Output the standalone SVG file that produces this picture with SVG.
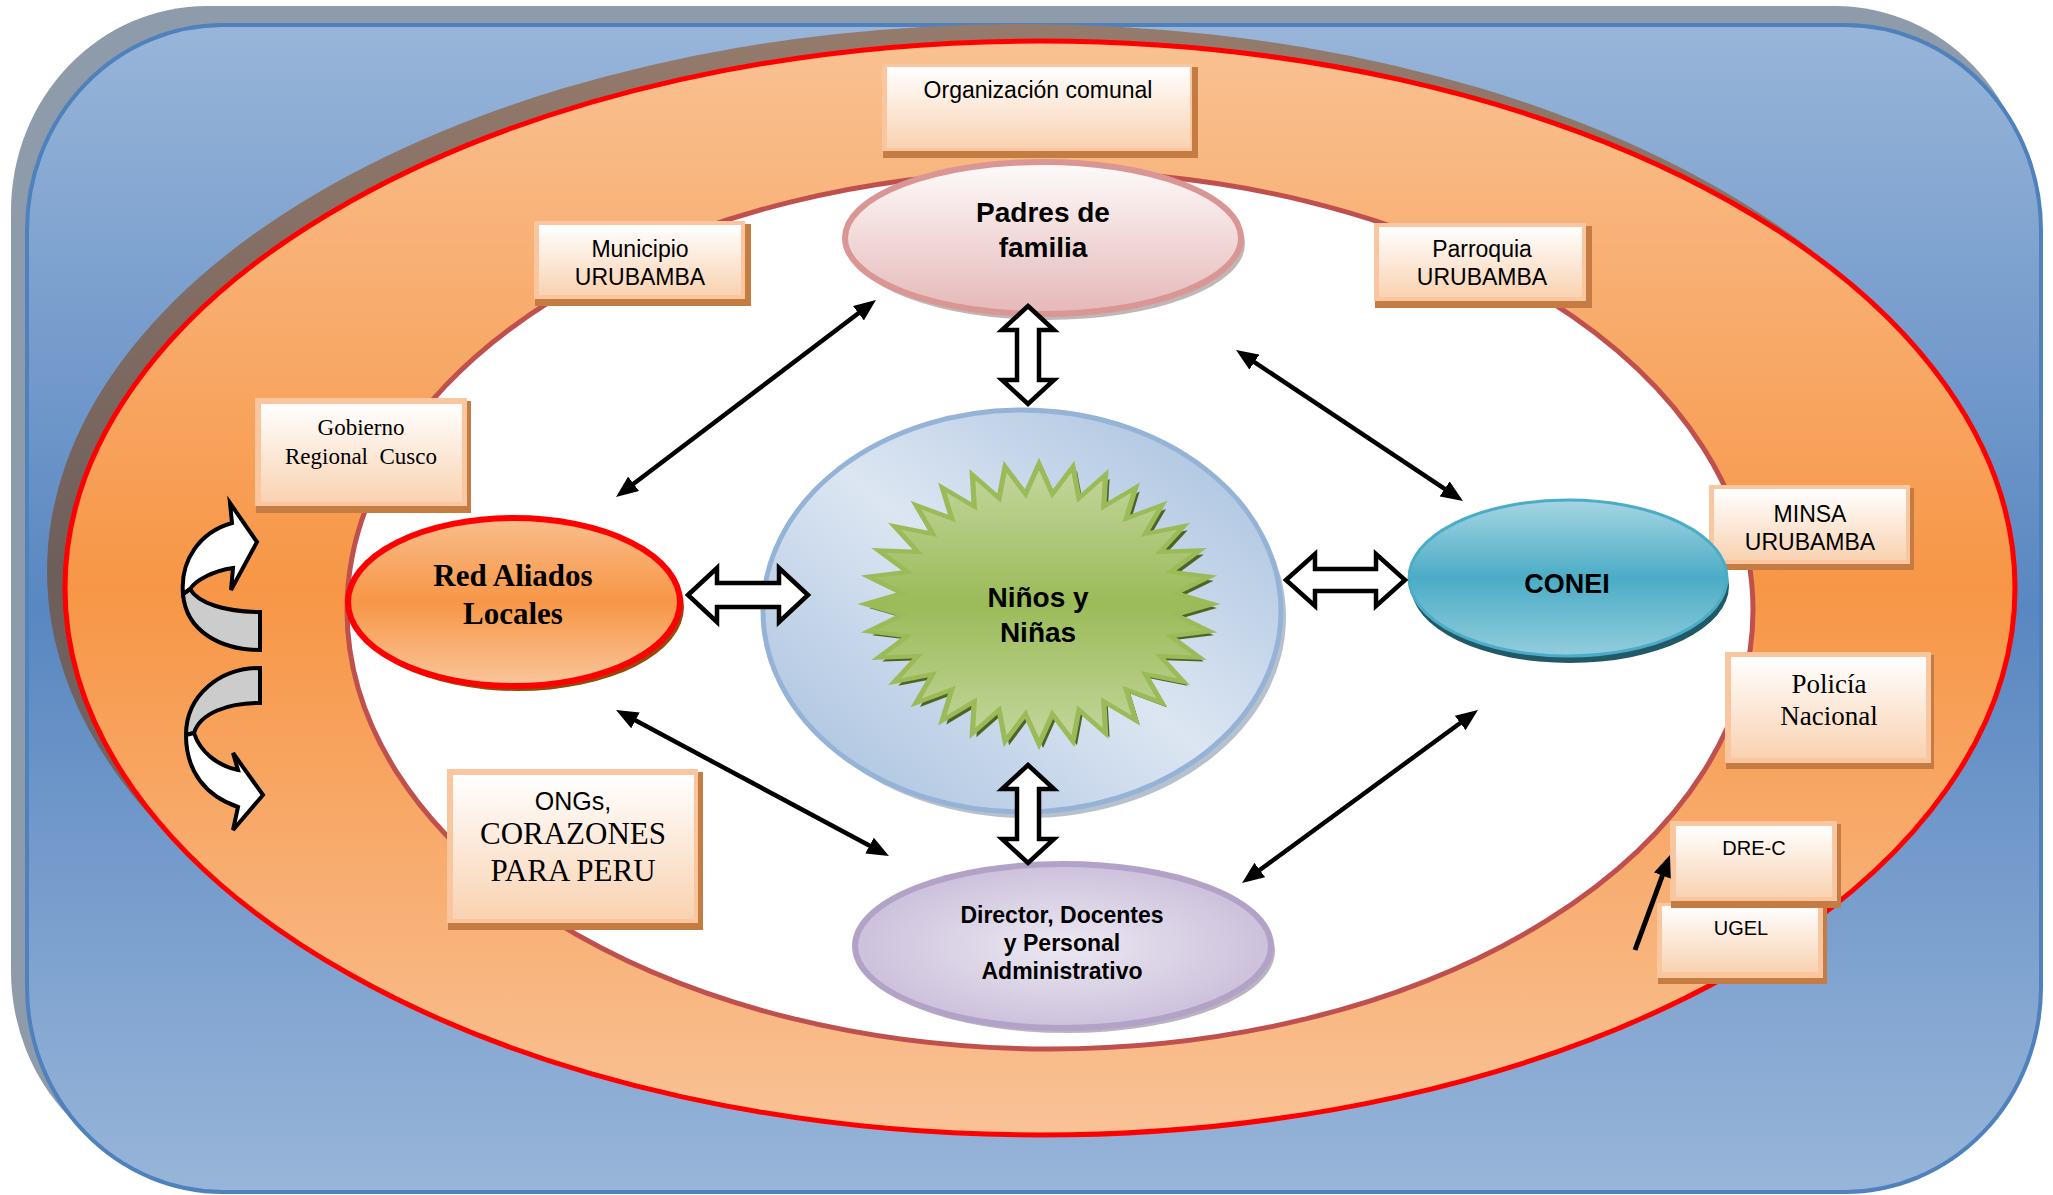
<svg xmlns="http://www.w3.org/2000/svg" width="2053" height="1195" viewBox="0 0 2053 1195">
<defs>
<style>
.sans{font-family:"Liberation Sans",Arial,sans-serif;fill:#000;text-anchor:middle}
.serif{font-family:"Liberation Serif","Times New Roman",serif;fill:#000;text-anchor:middle}
.b{font-weight:bold}
.bsh{fill:#c47c43}
.bbd{fill:#f9c6a0}
.bface{fill:url(#gBox)}
.blk{fill:#fff;stroke:#000;stroke-width:4.5;stroke-linejoin:miter}
.ln{fill:none;stroke:#000;stroke-width:4.5;marker-start:url(#ah);marker-end:url(#ah)}
.cv{stroke:#000;stroke-width:4;stroke-linejoin:miter}
</style>
<linearGradient id="gBlue" x1="0" y1="0" x2="0" y2="1">
<stop offset="0" stop-color="#98b5d9"/><stop offset="0.5" stop-color="#5987c1"/><stop offset="1" stop-color="#98b5d9"/>
</linearGradient>
<linearGradient id="gBrown" x1="0" y1="0" x2="0" y2="1">
<stop offset="0" stop-color="#957b6c"/><stop offset="0.5" stop-color="#6e5e5a"/><stop offset="1" stop-color="#7a6e72"/>
</linearGradient>
<linearGradient id="gOrange" x1="0" y1="0" x2="0" y2="1">
<stop offset="0" stop-color="#f9c192"/><stop offset="0.5" stop-color="#f79646"/><stop offset="1" stop-color="#f9c296"/>
</linearGradient>
<linearGradient id="gBox" x1="0" y1="0" x2="0" y2="1">
<stop offset="0" stop-color="#ffffff"/><stop offset="1" stop-color="#f9d2b1"/>
</linearGradient>
<linearGradient id="gCenter" x1="1" y1="0" x2="0" y2="1">
<stop offset="0" stop-color="#a3bddd"/><stop offset="0.5" stop-color="#dce6f2"/><stop offset="1" stop-color="#a3bddd"/>
</linearGradient>
<linearGradient id="gStar" x1="0" y1="0" x2="0" y2="1">
<stop offset="0" stop-color="#c4d79e"/><stop offset="0.5" stop-color="#9bbb59"/><stop offset="1" stop-color="#c4d79e"/>
</linearGradient>
<linearGradient id="gPink" x1="0" y1="0" x2="0" y2="1">
<stop offset="0" stop-color="#fefbfb"/><stop offset="1" stop-color="#e5b8b7"/>
</linearGradient>
<linearGradient id="gTeal" x1="0" y1="0" x2="0" y2="1">
<stop offset="0" stop-color="#a5d5e2"/><stop offset="0.5" stop-color="#4bacc6"/><stop offset="1" stop-color="#93cddd"/>
</linearGradient>
<radialGradient id="gLav" cx="0.5" cy="0.5" r="0.6">
<stop offset="0" stop-color="#ece8f2"/><stop offset="1" stop-color="#c6b9d7"/>
</radialGradient>
<linearGradient id="gRA" x1="0" y1="0" x2="0" y2="1">
<stop offset="0" stop-color="#f9bd8c"/><stop offset="0.5" stop-color="#f79646"/><stop offset="1" stop-color="#fac69c"/>
</linearGradient>
<marker id="ah" markerUnits="userSpaceOnUse" viewBox="0 0 22 18" markerWidth="22" markerHeight="18" refX="14" refY="9" orient="auto-start-reverse">
<path d="M0,0 L22,9 L0,18 Z" fill="#000"/>
</marker>
<polygon id="star" points="0,-100 7.74,-78.62 19.51,-98.08 22.93,-75.6 38.27,-92.39 37.24,-69.67 55.56,-83.15 50.12,-61.07 70.71,-70.71 61.07,-50.12 83.15,-55.56 69.67,-37.24 92.39,-38.27 75.6,-22.93 98.08,-19.51 78.62,-7.74 100,0 78.62,7.74 98.08,19.51 75.6,22.93 92.39,38.27 69.67,37.24 83.15,55.56 61.07,50.12 70.71,70.71 50.12,61.07 55.56,83.15 37.24,69.67 38.27,92.39 22.93,75.6 19.51,98.08 7.74,78.62 0,100 -7.74,78.62 -19.51,98.08 -22.93,75.6 -38.27,92.39 -37.24,69.67 -55.56,83.15 -50.12,61.07 -70.71,70.71 -61.07,50.12 -83.15,55.56 -69.67,37.24 -92.39,38.27 -75.6,22.93 -98.08,19.51 -78.62,7.74 -100,0 -78.62,-7.74 -98.08,-19.51 -75.6,-22.93 -92.39,-38.27 -69.67,-37.24 -83.15,-55.56 -61.07,-50.12 -70.71,-70.71 -50.12,-61.07 -55.56,-83.15 -37.24,-69.67 -38.27,-92.39 -22.93,-75.6 -19.51,-98.08 -7.74,-78.62"/>
</defs>

<g id="background">
<rect x="11" y="6" width="2020" height="1170" rx="196" ry="205" fill="#8e9bab"/>
<rect x="27" y="25" width="2014" height="1167" rx="196" ry="205" fill="url(#gBlue)" stroke="#4f81bd" stroke-width="4"/>
<ellipse cx="1022" cy="571" rx="975" ry="547" fill="url(#gBrown)"/>
<ellipse cx="1040" cy="588" rx="975" ry="547" fill="url(#gOrange)" stroke="#ff0000" stroke-width="5"/>
<ellipse cx="1050" cy="610" rx="703" ry="439" fill="#ffffff" stroke="#c0504d" stroke-width="5"/>
</g>

<g id="organizacion-comunal">
<rect x="883" y="67" width="315" height="91" class="bsh"/>
<rect x="882" y="64" width="310" height="87" class="bbd"/>
<rect x="887" y="67" width="303" height="81" class="bface"/>
<text x="1038" y="98" class="sans" font-size="23">Organización comunal</text>
</g>

<g id="municipio">
<rect x="535" y="224" width="216" height="82" class="bsh"/>
<rect x="534" y="221" width="211" height="78" class="bbd"/>
<rect x="539" y="225" width="202" height="70" class="bface"/>
<text x="640" y="257" class="sans" font-size="23">Municipio</text>
<text x="640" y="285" class="sans" font-size="23">URUBAMBA</text>
</g>

<g id="parroquia">
<rect x="1375" y="226" width="217" height="82" class="bsh"/>
<rect x="1374" y="223" width="212" height="78" class="bbd"/>
<rect x="1379" y="227" width="203" height="70" class="bface"/>
<text x="1482" y="257" class="sans" font-size="23">Parroquia</text>
<text x="1482" y="285" class="sans" font-size="23">URUBAMBA</text>
</g>

<g id="gobierno">
<rect x="256" y="401" width="215" height="112" class="bsh"/>
<rect x="255" y="398" width="212" height="108" class="bbd"/>
<rect x="261" y="404" width="201" height="98" class="bface"/>
<text x="361" y="435" class="serif" font-size="23">Gobierno</text>
<text x="361" y="464" class="serif" font-size="23">Regional&#160; Cusco</text>
</g>

<g id="ongs">
<rect x="448" y="772" width="255" height="158" class="bsh"/>
<rect x="447" y="769" width="251" height="154" class="bbd"/>
<rect x="453" y="775" width="241" height="144" class="bface"/>
<text x="573" y="810" class="sans" font-size="25">ONGs,</text>
<text x="573" y="844" class="serif" font-size="31">CORAZONES</text>
<text x="573" y="881" class="serif" font-size="31">PARA PERU</text>
</g>

<g id="minsa">
<rect x="1710" y="488" width="204" height="82" class="bsh"/>
<rect x="1709" y="485" width="201" height="79" class="bbd"/>
<rect x="1714" y="489" width="192" height="71" class="bface"/>
<text x="1810" y="522" class="sans" font-size="23">MINSA</text>
<text x="1810" y="550" class="sans" font-size="23">URUBAMBA</text>
</g>

<g id="policia">
<rect x="1726" y="655" width="208" height="114" class="bsh"/>
<rect x="1725" y="652" width="206" height="111" class="bbd"/>
<rect x="1731" y="657" width="195" height="101" class="bface"/>
<text x="1829" y="693" class="serif" font-size="27">Policía</text>
<text x="1829" y="725" class="serif" font-size="27">Nacional</text>
</g>

<g id="ugel">
<rect x="1658" y="906" width="169" height="78" class="bsh"/>
<rect x="1657" y="903" width="166" height="75" class="bbd"/>
<rect x="1662" y="906" width="156" height="66" class="bface"/>
<text x="1741" y="935" class="sans" font-size="20">UGEL</text>
</g>

<g id="dre-c">
<rect x="1671" y="824" width="170" height="84" class="bsh"/>
<rect x="1670" y="821" width="167" height="80" class="bbd"/>
<rect x="1676" y="826" width="156" height="71" class="bface"/>
<text x="1754" y="855" class="sans" font-size="20">DRE-C</text>
</g>

<g id="padres-de-familia">
<ellipse cx="1047" cy="244" rx="198" ry="76" fill="#8c7a7a" opacity="0.55"/>
<ellipse cx="1043" cy="238" rx="198" ry="76" fill="url(#gPink)" stroke="#d99694" stroke-width="6"/>
<text x="1043" y="222" class="sans b" font-size="28">Padres de</text>
<text x="1043" y="257" class="sans b" font-size="28">familia</text>
</g>

<g id="ninos-y-ninas">
<ellipse cx="1027" cy="617" rx="259" ry="201" fill="#8797ad" opacity="0.6"/>
<ellipse cx="1022" cy="611" rx="259" ry="201" fill="url(#gCenter)" stroke="#95b3d7" stroke-width="5"/>
<use href="#star" transform="translate(1043,608) scale(1.74,1.40)" fill="#4f6228"/>
<use href="#star" transform="translate(1039,604) scale(1.74,1.40)" fill="url(#gStar)" stroke="#9bbb59" stroke-width="3" vector-effect="non-scaling-stroke"/>
<text x="1038" y="607" class="sans b" font-size="28">Niños y</text>
<text x="1038" y="642" class="sans b" font-size="28">Niñas</text>
</g>

<g id="red-aliados-locales">
<ellipse cx="518" cy="607" rx="166" ry="84" fill="#984807"/>
<ellipse cx="514" cy="602" rx="166" ry="84" fill="url(#gRA)" stroke="#ff0000" stroke-width="6"/>
<text x="513" y="586" class="serif b" font-size="31">Red Aliados</text>
<text x="513" y="624" class="serif b" font-size="31">Locales</text>
</g>

<g id="conei">
<ellipse cx="1570" cy="586" rx="159" ry="77" fill="#215968"/>
<ellipse cx="1568" cy="578" rx="159" ry="78" fill="url(#gTeal)" stroke="#4bacc6" stroke-width="3"/>
<text x="1567" y="593" class="sans b" font-size="27">CONEI</text>
</g>

<g id="director">
<ellipse cx="1067" cy="951" rx="208" ry="82" fill="#8a8296" opacity="0.6"/>
<ellipse cx="1063" cy="946" rx="208" ry="82" fill="url(#gLav)" stroke="#b3a2c7" stroke-width="6"/>
<text x="1062" y="923" class="sans b" font-size="23">Director, Docentes</text>
<text x="1062" y="951" class="sans b" font-size="23">y Personal</text>
<text x="1062" y="979" class="sans b" font-size="23">Administrativo</text>
</g>

<g id="connectors">
<polygon class="blk" points="1028,306 1054,330 1039,330 1039,380 1054,380 1028,404 1002,380 1017,380 1017,330 1002,330"/>
<polygon class="blk" points="1028,765 1054,789 1039,789 1039,839 1054,839 1028,863 1002,839 1017,839 1017,789 1002,789"/>
<polygon class="blk" points="688,595 717,568 717,583 779,583 779,568 808,595 779,622 779,607 717,607 717,622"/>
<polygon class="blk" points="1286,580 1315,554 1315,569 1376,569 1376,554 1405,580 1376,606 1376,591 1315,591 1315,606"/>
<line class="ln" x1="622.4" y1="492.2" x2="869.6" y2="304.8"/>
<line class="ln" x1="1242.7" y1="354.4" x2="1456.3" y2="496.6"/>
<line class="ln" x1="623.1" y1="713.8" x2="881.9" y2="852.2"/>
<line class="ln" x1="1471.5" y1="714.7" x2="1248.5" y2="878.3"/>
<line x1="1635" y1="950" x2="1667.2" y2="862.5" stroke="#000" stroke-width="5" marker-end="url(#ah)"/>
<path class="cv" fill="#cccccc" d="M260,612 L260,650 C222,650 186,632 183,594 L190,589 C198,603 225,612 260,612 Z"/>
<path class="cv" fill="#ffffff" d="M183,594 C180,560 200,532 232,523 L230,503 L257,542 L231,590 L233,568 C213,571 196,580 190,589 Z"/>
<path class="cv" fill="#cccccc" d="M260,668 L260,703 C228,703 200,713 194,733 L186,735 C186,695 220,668 260,668 Z"/>
<path class="cv" fill="#ffffff" d="M186,735 C186,772 206,796 238,807 L233,830 L263,795 L233,753 L238,770 C218,766 200,752 194,733 Z"/>
</g>
</svg>
